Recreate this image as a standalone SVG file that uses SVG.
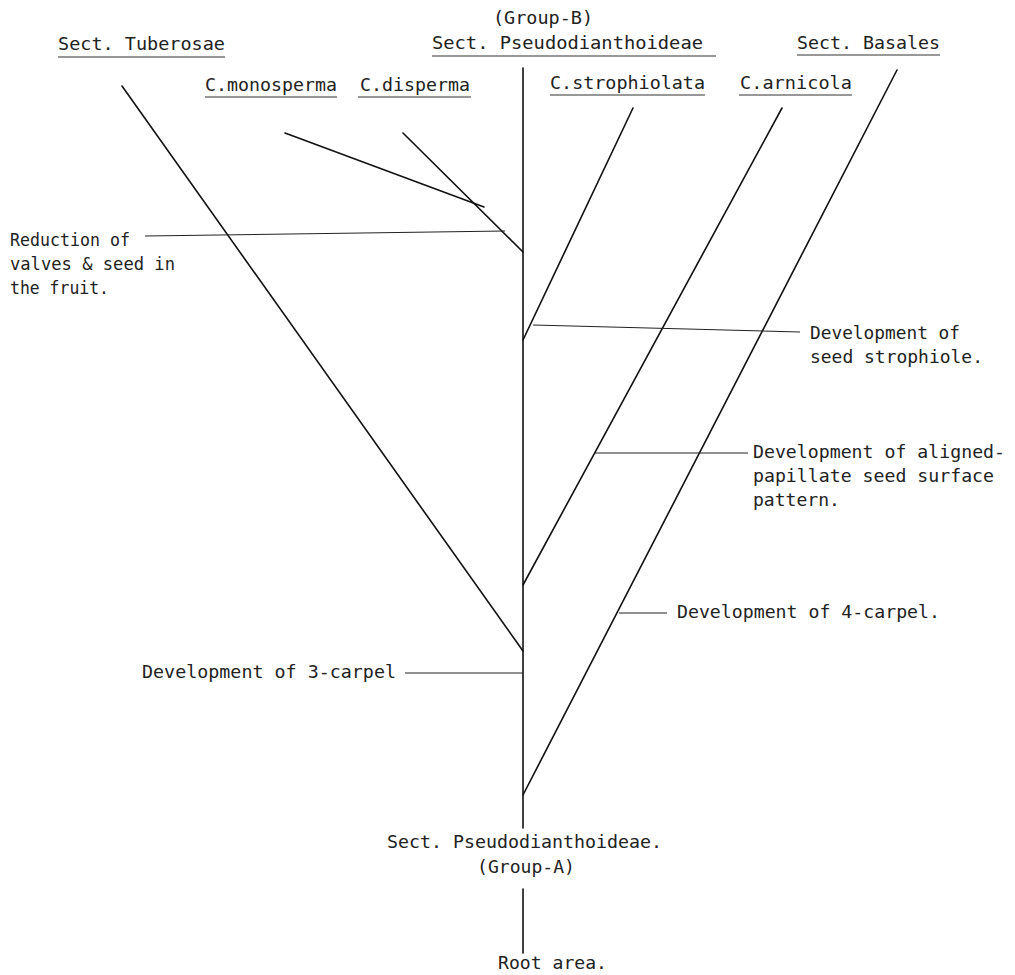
<svg xmlns="http://www.w3.org/2000/svg" width="1015" height="975" viewBox="0 0 1015 975">
<style>
text{font-family:"DejaVu Sans Mono","Liberation Mono",monospace;font-size:17px;fill:#222;}
.br{stroke:#111;stroke-width:1.6;fill:none;stroke-linecap:round;}
.ld{stroke:#222;stroke-width:1.1;fill:none;}
.ul{stroke:#333;stroke-width:1.2;fill:none;}
</style>
<rect width="1015" height="975" fill="#fff"/>
<g id="connectors">
<line class="br" x1="523" y1="68" x2="523" y2="828"/>
<line class="br" x1="523" y1="889" x2="523" y2="953"/>
<line class="br" x1="122" y1="86" x2="523" y2="651"/>
<line class="br" x1="285" y1="133" x2="484" y2="207"/>
<line class="br" x1="403" y1="133" x2="523" y2="252"/>
<line class="br" x1="633" y1="108" x2="523" y2="340"/>
<line class="br" x1="782" y1="108" x2="523" y2="585"/>
<line class="br" x1="897" y1="70" x2="523" y2="795"/>
<line class="ld" x1="145" y1="236" x2="505" y2="231"/>
<line class="ld" x1="533" y1="325" x2="800" y2="332"/>
<line class="ld" x1="595" y1="453" x2="748" y2="453"/>
<line class="ld" x1="619" y1="613" x2="667" y2="613"/>
<line class="ld" x1="405" y1="673" x2="523" y2="673"/>
</g>
<g id="underlines">
<line class="ul" x1="58" y1="57" x2="225" y2="57"/>
<line class="ul" x1="432" y1="56" x2="716" y2="56"/>
<line class="ul" x1="797" y1="55" x2="940" y2="55"/>
<line class="ul" x1="205" y1="97" x2="337" y2="97"/>
<line class="ul" x1="358" y1="97" x2="471" y2="97"/>
<line class="ul" x1="550" y1="95" x2="705" y2="95"/>
<line class="ul" x1="739" y1="95" x2="852" y2="95"/>
</g>
<g id="node-tuberosae"><text x="58" y="50" textLength="167" lengthAdjust="spacingAndGlyphs">Sect. Tuberosae</text></g>
<g id="node-groupB">
<text x="493" y="24" textLength="100" lengthAdjust="spacingAndGlyphs">(Group-B)</text>
<text x="432" y="49" textLength="271" lengthAdjust="spacingAndGlyphs">Sect. Pseudodianthoideae</text>
</g>
<g id="node-basales"><text x="797" y="49" textLength="143" lengthAdjust="spacingAndGlyphs">Sect. Basales</text></g>
<g id="node-monosperma"><text x="205" y="91" textLength="132" lengthAdjust="spacingAndGlyphs">C.monosperma</text></g>
<g id="node-disperma"><text x="360" y="91" textLength="110" lengthAdjust="spacingAndGlyphs">C.disperma</text></g>
<g id="node-strophiolata"><text x="550" y="89" textLength="155" lengthAdjust="spacingAndGlyphs">C.strophiolata</text></g>
<g id="node-arnicola"><text x="740" y="89" textLength="112" lengthAdjust="spacingAndGlyphs">C.arnicola</text></g>
<g id="note-reduction">
<text x="10" y="246" textLength="120" lengthAdjust="spacingAndGlyphs">Reduction of</text>
<text x="10" y="270" textLength="165" lengthAdjust="spacingAndGlyphs">valves &amp; seed in</text>
<text x="10" y="294" textLength="99" lengthAdjust="spacingAndGlyphs">the fruit.</text>
</g>
<g id="note-strophiole">
<text x="810" y="339" textLength="150" lengthAdjust="spacingAndGlyphs">Development of</text>
<text x="810" y="363" textLength="173" lengthAdjust="spacingAndGlyphs">seed strophiole.</text>
</g>
<g id="note-aligned">
<text x="753" y="458" textLength="252" lengthAdjust="spacingAndGlyphs">Development of aligned-</text>
<text x="753" y="482" textLength="241" lengthAdjust="spacingAndGlyphs">papillate seed surface</text>
<text x="753" y="506" textLength="87" lengthAdjust="spacingAndGlyphs">pattern.</text>
</g>
<g id="note-4carpel"><text x="677" y="618" textLength="263" lengthAdjust="spacingAndGlyphs">Development of 4-carpel.</text></g>
<g id="note-3carpel"><text x="142" y="678" textLength="254" lengthAdjust="spacingAndGlyphs">Development of 3-carpel</text></g>
<g id="node-groupA">
<text x="387" y="848" textLength="275" lengthAdjust="spacingAndGlyphs">Sect. Pseudodianthoideae.</text>
<text x="477" y="873" textLength="98" lengthAdjust="spacingAndGlyphs">(Group-A)</text>
</g>
<g id="node-root"><text x="498" y="969" textLength="109" lengthAdjust="spacingAndGlyphs">Root area.</text></g>
</svg>
